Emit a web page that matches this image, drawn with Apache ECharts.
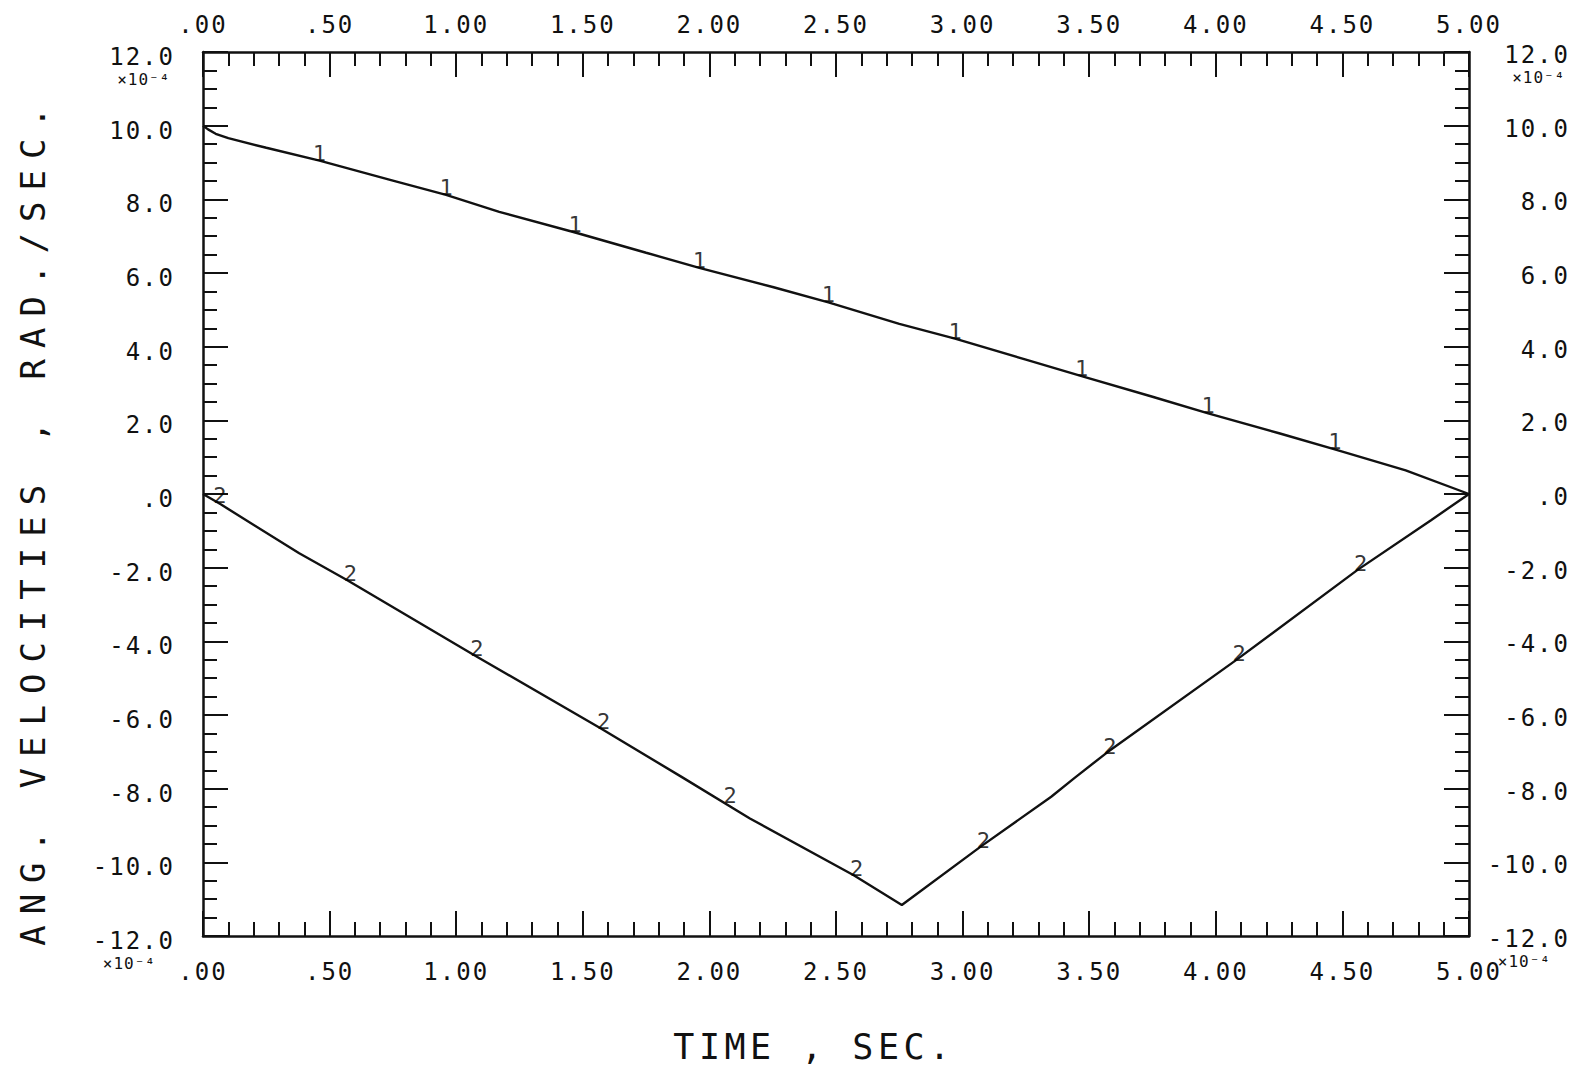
<!DOCTYPE html>
<html><head><meta charset="utf-8">
<script src="https://cdn.jsdelivr.net/npm/echarts@6/dist/echarts.min.js"></script>
<style>
html,body{margin:0;padding:0;background:#fff;}
#c{width:1583px;height:1068px;}
#c text[style*="24px"]{letter-spacing:2px;}
#c text[style*="16px"]{letter-spacing:1px;}
#c text[style*="34px"]{letter-spacing:11px;}
#c text[style*="35px"]{letter-spacing:4.5px;}
</style></head><body><div id="c"></div>
<script>
// ---- data ----
const xTickLabels = ['.00','.50','1.00','1.50','2.00','2.50','3.00','3.50','4.00','4.50','5.00'];
const yTickLabels = ['-12.0','-10.0','-8.0','-6.0','-4.0','-2.0','.0','2.0','4.0','6.0','8.0','10.0','12.0'];
const multiplier = '×10⁻⁴';
const xTitle = 'TIME , SEC.';
const yTitle = 'ANG. VELOCITIES , RAD./SEC.';

const time1 = [0, 0.02, 0.05, 0.1, 0.25, 0.46, 0.75, 0.96, 1.17, 1.47, 1.75, 1.96, 2.25, 2.47, 2.75, 2.97, 3.25, 3.47, 3.75, 3.97, 4.25, 4.47, 4.75, 5.0];
const vel1  = [10.0, 9.90, 9.78, 9.66, 9.40, 9.05, 8.51, 8.12, 7.66, 7.10, 6.55, 6.14, 5.62, 5.20, 4.62, 4.22, 3.65, 3.20, 2.64, 2.19, 1.65, 1.21, 0.64, 0.0];

const time2 = [0, 0.07, 0.38, 0.57, 1.07, 1.57, 1.89, 2.16, 2.57, 2.76, 3.07, 3.35, 3.44, 3.57, 4.08, 4.56, 4.85, 5.0];
const vel2  = [0.0, -0.28, -1.61, -2.34, -4.37, -6.36, -7.68, -8.81, -10.35, -11.16, -9.58, -8.22, -7.72, -7.02, -4.51, -2.06, -0.71, 0.0];

const mark1Time = [0.46, 0.96, 1.47, 1.96, 2.47, 2.97, 3.47, 3.97, 4.47];
const mark1Vel  = [9.05, 8.12, 7.10, 6.14, 5.20, 4.22, 3.20, 2.19, 1.21];
const mark2Time = [0.055, 0.57, 1.07, 1.57, 2.07, 2.57, 3.07, 3.57, 4.08, 4.56];
const mark2Vel  = [-0.22, -2.34, -4.37, -6.36, -8.37, -10.35, -9.58, -7.02, -4.51, -2.06];

// ---- chart ----
const FONT = "'DejaVu Sans Mono', monospace";
const INK = '#111111';
const zip = (a, b) => a.map((v, i) => [v, b[i]]);

function xFmt(v) { return xTickLabels[Math.round(v / 0.5)]; }
function yFmt(v) {
  const s = yTickLabels[Math.round((v + 12) / 2)];
  if (Math.abs(v) === 12) return '{s| }\n{a|' + s + '}\n{b|' + multiplier + '}';
  return s;
}
const rich = {
  s: { fontSize: 16, lineHeight: 20, height: 20, fontFamily: FONT, color: 'rgba(0,0,0,0)' },
  a: { fontSize: 24, lineHeight: 24, fontFamily: FONT, color: INK },
  b: { fontSize: 16, lineHeight: 20, fontFamily: FONT, color: INK, align: 'left' }
};

function xAxisDef(pos, extra) {
  return Object.assign({
    type: 'value', min: 0, max: 5, interval: 0.5, position: pos,
    axisLine: { show: true, onZero: false, lineStyle: { color: INK, width: 2.5 } },
    axisTick: { show: true, inside: true, length: 25, lineStyle: { color: INK, width: 2 } },
    minorTick: { show: true, splitNumber: 5, length: 14, lineStyle: { color: INK, width: 2 } },
    splitLine: { show: false }, minorSplitLine: { show: false },
    axisLabel: { show: true, fontSize: 24, fontFamily: FONT, color: INK, formatter: xFmt,
                 margin: pos === 'top' ? 15 : 24 }
  }, extra || {});
}
function yAxisDef(pos, extra) {
  return Object.assign({
    type: 'value', min: -12, max: 12, interval: 2, position: pos,
    axisLine: { show: true, onZero: false, lineStyle: { color: INK, width: 2.5 } },
    axisTick: { show: true, inside: true, length: 25, lineStyle: { color: INK, width: 2 } },
    minorTick: { show: true, splitNumber: 4, length: 14, lineStyle: { color: INK, width: 2 } },
    splitLine: { show: false }, minorSplitLine: { show: false },
    axisLabel: pos === 'left'
      ? { show: true, fontSize: 24, fontFamily: FONT, color: INK, formatter: yFmt, rich: rich, margin: 28, padding: [10, 0, 0, 0] }
      : { show: true, fontSize: 24, fontFamily: FONT, color: INK, formatter: yFmt, rich: rich, margin: 101, align: 'right', padding: [6, 0, 0, 0] }
  }, extra || {});
}

const chart = echarts.init(document.getElementById('c'), null, { renderer: 'svg', width: 1583, height: 1068 });
chart.setOption({
  animation: false,
  backgroundColor: '#ffffff',
  grid: { left: 203, right: 114, top: 52, bottom: 132, containLabel: false, outerBoundsMode: 'none' },
  xAxis: [
    xAxisDef('bottom', { name: xTitle, nameLocation: 'middle', nameGap: 93,
      nameTextStyle: { fontSize: 35, lineHeight: 35, fontFamily: FONT, color: INK, padding: [0, 44, 0, 0] } }),
    xAxisDef('top')
  ],
  yAxis: [
    yAxisDef('left', { name: yTitle, nameLocation: 'middle', nameGap: 153,
      nameTextStyle: { fontSize: 34, lineHeight: 34, fontFamily: FONT, color: INK, padding: [0, 54, 0, 0] } }),
    yAxisDef('right')
  ],
  series: [
    { type: 'line', xAxisIndex: 0, yAxisIndex: 0, data: zip(time1, vel1), symbol: 'none',
      lineStyle: { color: INK, width: 2.4 }, silent: true, z: 3 },
    { type: 'line', xAxisIndex: 0, yAxisIndex: 0, data: zip(time2, vel2), symbol: 'none',
      lineStyle: { color: INK, width: 2.4 }, silent: true, z: 3 },
    { type: 'scatter', xAxisIndex: 0, yAxisIndex: 0, data: zip(mark1Time, mark1Vel), symbolSize: 1,
      itemStyle: { color: 'rgba(0,0,0,0)' }, silent: true, z: 4,
      label: { show: true, formatter: '1', position: 'top', distance: -4, fontSize: 22, fontFamily: FONT, color: '#000' } },
    { type: 'scatter', xAxisIndex: 0, yAxisIndex: 0, data: zip(mark2Time, mark2Vel), symbolSize: 1,
      itemStyle: { color: 'rgba(0,0,0,0)' }, silent: true, z: 4,
      label: { show: true, formatter: '2', position: 'top', distance: -5, offset: [3, 0], fontSize: 22, fontFamily: FONT, color: '#000' } }
  ]
});
</script></body></html>
